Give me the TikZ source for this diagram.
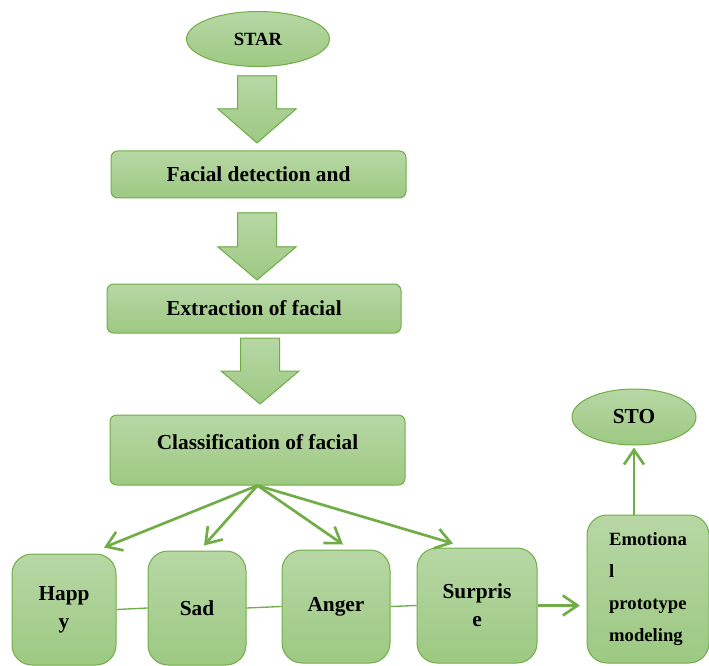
\documentclass[tikz,border=0pt]{standalone}
\usepackage{fontspec}
\setmainfont{Liberation Serif}
\usepackage{tikz}
\usetikzlibrary{arrows.meta,shapes.geometric,calc}

\definecolor{grnline}{RGB}{112,173,71}
\definecolor{grntop}{RGB}{183,215,165}
\definecolor{grnbot}{RGB}{157,201,130}

\tikzset{
  shade box/.style={top color=grntop, bottom color=grnbot},
  stepbox/.style={shade box, draw=grnline, line width=0.75pt, rounded corners=5pt,
    inner sep=0pt, font=\fontsize{16}{21}\selectfont\bfseries, align=center},
  emobox/.style={stepbox, rounded corners=15pt},
  terminal/.style={shade box, draw=grnline, line width=0.75pt, ellipse, inner sep=0pt,
    font=\fontsize{16}{19}\selectfont\bfseries},
  link/.style={grnline, line width=2pt, -{Straight Barb[length=11pt,width=15pt]}},
  tie/.style={grnline, line width=1pt}
}

\begin{document}
\begin{tikzpicture}[x=0.75pt, y=-0.75pt]
  \useasboundingbox (0,0) rectangle (709,666);

  % main column
  \node[terminal, minimum width=107.25pt, minimum height=41.25pt,
        font=\fontsize{14}{17}\selectfont\bfseries] (star) at (258,39) {STAR};
  \node[stepbox, minimum width=221.25pt, minimum height=35.25pt] (detect) at (258.5,174.5) {Facial detection and};
  \node[stepbox, minimum width=220.5pt, minimum height=36.75pt] (extract) at (254,308.5) {Extraction of facial};
  \node[stepbox, minimum width=221.25pt, minimum height=52.5pt] (classify) at (257.5,450) {\raisebox{12pt}{Classification of facial}};

  % block arrows between the steps
  \foreach \cx/\ytop/\yneck/\ytip in {257/76/109/143, 257/213/247/280, 260/338/371/404}
    \fill[shade box, draw=grnline, line width=0.75pt]
      (\cx-19.5,\ytop) -- (\cx+19.5,\ytop) -- (\cx+19.5,\yneck) -- (\cx+39,\yneck)
      -- (\cx,\ytip) -- (\cx-39,\yneck) -- (\cx-19.5,\yneck) -- cycle;

  % emotion classes
  \node[emobox, minimum width=78pt, minimum height=83.25pt] (happy) at (64,609.5) {Happ\\y};
  \node[emobox, minimum width=73.5pt, minimum height=85.5pt] (sad) at (197,608) {Sad};
  \node[emobox, minimum width=81pt, minimum height=84.75pt] (anger) at (336,606.5) {Anger};
  \node[emobox, minimum width=90pt, minimum height=86.25pt] (surprise) at (477,605.5) {Surpris\\e};
  \node[emobox, minimum width=91.5pt, minimum height=111pt, align=left,
        font=\fontsize{14}{24}\selectfont\bfseries] (model) at (648,589) {Emotiona\\l\\prototype\\modeling};
  \node[terminal, minimum width=93pt, minimum height=42pt] (stop) at (634,417) {STO};

  % connectors
  \draw[link] (classify.south) -- ($(happy.north)+(40,-6)$);
  \draw[link] (classify.south) -- ($(sad.north)+(7,-5)$);
  \draw[link] (classify.south) -- ($(anger.north)+(7,-5)$);
  \draw[link] (classify.south) -- ($(surprise.north)+(-24,-4)$);
  \draw[tie] (happy.east) -- (sad.west);
  \draw[tie] (sad.east) -- (anger.west);
  \draw[tie] (anger.east) -- (surprise.west);
  \draw[link, shorten >=5pt] (surprise.east) -- (surprise.east -| model.west);
  \draw[link, shorten >=1.5pt] (model.north -| stop.south) -- (stop.south);
\end{tikzpicture}
\end{document}
